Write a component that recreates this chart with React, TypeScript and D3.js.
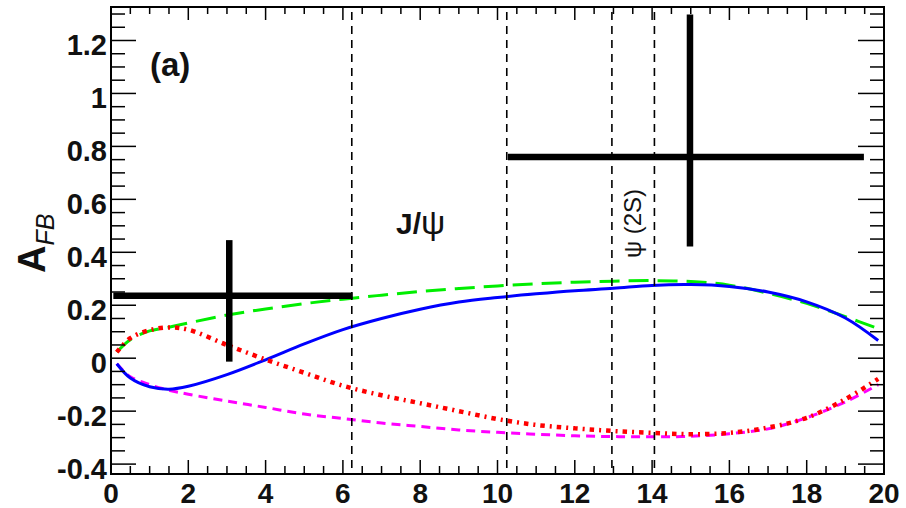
import React from "react";
import * as d3 from "d3";

const qsq = [0.15, 0.5, 1, 1.5, 2, 3, 4, 5, 6, 7, 8, 9, 10, 11, 12, 13, 14, 15, 16, 17, 18, 19, 19.85];
const greenSeries = [0.023, 0.07, 0.103, 0.117, 0.133, 0.163, 0.186, 0.206, 0.223, 0.238, 0.252, 0.263, 0.273, 0.281, 0.287, 0.291, 0.293, 0.29, 0.276, 0.245, 0.207, 0.157, 0.112];
const blueSeries = [-0.021, -0.075, -0.108, -0.117, -0.106, -0.062, -0.006, 0.054, 0.108, 0.15, 0.185, 0.212, 0.229, 0.243, 0.255, 0.264, 0.275, 0.278, 0.271, 0.25, 0.213, 0.152, 0.067];
const redSeries = [0.023, 0.076, 0.106, 0.116, 0.108, 0.05, -0.005, -0.055, -0.104, -0.14, -0.17, -0.2, -0.23, -0.252, -0.265, -0.275, -0.282, -0.287, -0.282, -0.262, -0.225, -0.155, -0.078];
const magentaSeries = [-0.021, -0.07, -0.1, -0.121, -0.136, -0.162, -0.186, -0.211, -0.228, -0.245, -0.258, -0.271, -0.28, -0.287, -0.293, -0.296, -0.297, -0.295, -0.285, -0.267, -0.225, -0.165, -0.1];

const binLow = [0.06, 10.27];
const binHigh = [6.25, 19.48];
const binCenter = [3.06, 14.98];
const afbValue = [0.236, 0.76];
const afbErrUp = [0.21, 0.538];
const afbErrDown = [0.249, 0.338];

const vetoLines = [6.23, 10.24, 12.96, 14.06];

const xMajorTicks = [0, 2, 4, 6, 8, 10, 12, 14, 16, 18, 20];
const yMajorTicks = [-0.4, -0.2, 0, 0.2, 0.4, 0.6, 0.8, 1, 1.2];
const yTickLabels = ["-0.4", "-0.2", "0", "0.2", "0.4", "0.6", "0.8", "1", "1.2"];

const W = 906, H = 508;
const L = 111, R = 884, T = 7, B = 474;
const FONT = "'Liberation Sans', Arial, Helvetica, sans-serif";

export default function App() {
  const x = d3.scaleLinear().domain([0, 20]).range([L, R]);
  const y = d3.scaleLinear().domain([-0.4374, 1.3265]).range([B, T]);

  const mk = (vals: number[]) =>
    d3.line<number>().x((_, i) => x(qsq[i])).y((v) => y(v)).curve(d3.curveCatmullRom.alpha(0.5))(vals) || "";

  const xMinor = d3.range(0, 20.001, 0.5).filter((v) => Math.abs(v / 2 - Math.round(v / 2)) > 1e-6);
  const yMinor = d3.range(-0.4, 1.33, 0.05).filter((v) => Math.abs(v / 0.2 - Math.round(v / 0.2)) > 1e-6);

  return (
    <svg width={W} height={H} style={{ position: "fixed", left: 0, top: 0, background: "#fff" }} fontFamily={FONT}>
      <rect x={0} y={0} width={W} height={H} fill="#fff" />
      {/* curves */}
      <path d={mk(magentaSeries)} fill="none" stroke="#ff00ff" strokeWidth={3} strokeDasharray="9 6" />
      <path d={mk(greenSeries)} fill="none" stroke="#00ee00" strokeWidth={3} strokeDasharray="20 9" />
      <path d={mk(blueSeries)} fill="none" stroke="#0000ff" strokeWidth={3} />
      <path d={mk(redSeries)} fill="none" stroke="#ff0000" strokeWidth={4.5} strokeDasharray="4.5 5 2 5" />
      {/* veto lines */}
      {vetoLines.map((v, i) => (
        <line key={"v" + i} x1={x(v)} x2={x(v)} y1={T + 5} y2={B} stroke="#000" strokeWidth={1.6} strokeDasharray="8 6" />
      ))}
      {/* error bars */}
      {afbValue.map((v, i) => (
        <g key={"e" + i} stroke="#000" strokeWidth={6.5}>
          <line x1={x(binLow[i])} x2={x(binHigh[i])} y1={y(v)} y2={y(v)} />
          <line x1={x(binCenter[i])} x2={x(binCenter[i])} y1={y(v + afbErrUp[i])} y2={y(v - afbErrDown[i])} />
        </g>
      ))}
      {/* ticks */}
      <g stroke="#000" strokeWidth={1.5}>
        {xMajorTicks.map((v) => (
          <g key={"xt" + v}>
            <line x1={x(v)} x2={x(v)} y1={B} y2={B - 14} />
            <line x1={x(v)} x2={x(v)} y1={T} y2={T + 13} />
          </g>
        ))}
        {xMinor.map((v) => (
          <g key={"xm" + v}>
            <line x1={x(v)} x2={x(v)} y1={B} y2={B - 8} />
            <line x1={x(v)} x2={x(v)} y1={T} y2={T + 7} />
          </g>
        ))}
        {yMajorTicks.map((v) => (
          <g key={"yt" + v}>
            <line x1={L} x2={L + 25} y1={y(v)} y2={y(v)} />
            <line x1={R} x2={R - 26} y1={y(v)} y2={y(v)} />
          </g>
        ))}
        {yMinor.map((v) => (
          <g key={"ym" + v.toFixed(2)}>
            <line x1={L} x2={L + 14} y1={y(v)} y2={y(v)} />
            <line x1={R} x2={R - 14} y1={y(v)} y2={y(v)} />
          </g>
        ))}
      </g>
      <rect x={L} y={T} width={R - L} height={B - T} fill="none" stroke="#000" strokeWidth={2} />
      {/* tick labels */}
      {xMajorTicks.map((v) => (
        <text key={"xl" + v} x={x(v)} y={503} textAnchor="middle" fontSize={28} fontWeight="bold" fill="#111">
          {String(v)}
        </text>
      ))}
      {yMajorTicks.map((v, i) => (
        <text key={"yl" + v} x={107} y={y(v) + 15} textAnchor="end" fontSize={29} fontWeight="bold" fill="#111">
          {yTickLabels[i]}
        </text>
      ))}
      {/* axis title */}
      <text transform="translate(45,273) rotate(-90)" fontSize={38} fontWeight="bold" fill="#111">
        A<tspan fontSize={25} fontStyle="italic" fontWeight="normal" dy={9}>FB</tspan>
      </text>
      {/* annotations */}
      <text x={150} y={76} fontSize={33} fontWeight="bold" fill="#111">(a)</text>
      <text x={396} y={234} fontSize={30} fontWeight="bold" fill="#111">
        J/<tspan fontWeight="normal" fontSize={34}>ψ</tspan>
      </text>
      <text transform="translate(641,258) rotate(-90)" fontSize={24} fill="#111">ψ (2S)</text>
    </svg>
  );
}
